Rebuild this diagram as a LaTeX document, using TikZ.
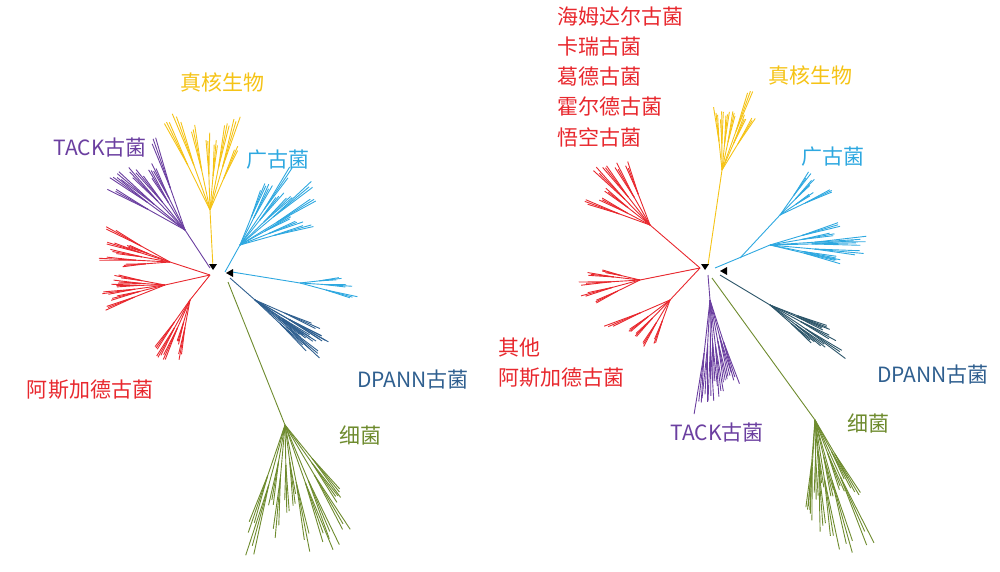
\documentclass[tikz,border=0pt]{standalone}
\usepackage{fontspec}
\newfontfamily\cjk{Noto Sans CJK SC}
\setmainfont{Noto Sans CJK SC}
\definecolor{cR}{HTML}{E8282E}
\definecolor{cY}{HTML}{F5C316}
\definecolor{cP}{HTML}{6B3FA0}
\definecolor{cB}{HTML}{2EA8E0}
\definecolor{cD}{HTML}{2F5F8F}
\definecolor{cT}{HTML}{2B5468}
\definecolor{cG}{HTML}{6E8B2E}
\newcommand\myclade[8]{%
 \foreach \i in {1,...,#8}{%
  \pgfmathsetmacro\a{#4+(#5-#4)*(\i-1)/(#8-1)+rnd*4-2}%
  \pgfmathsetmacro\L{#6+rnd*(#7-#6)}%
  \draw[#1] (#2,571-#3) -- ++(\a:0.45*\L) coordinate (m);
  \foreach \d in {-3,0,3}{%
   \pgfmathsetmacro\LL{0.55*\L*(0.7+0.3*rnd)}%
   \draw[#1] (m) -- ++(\a+\d:\LL);}
 }}
\newcommand\trunk[5]{\draw[#1] (#2,571-#3) -- (#4,571-#5);}
\tikzset{lab/.style={font=\fontsize{21}{24}\selectfont, inner sep=0pt},
 tri/.style={fill=black}}
\begin{document}
\begin{tikzpicture}[x=1pt,y=1pt,line width=0.9pt]
\pgfmathsetseed{7}
\useasboundingbox (0,0) rectangle (1000,571);
% LEFT TREE
\trunk{cY}{213}{268}{210}{210}\myclade{cY}{210}{210}{65}{115}{70}{115}{8}
\trunk{cP}{210}{268}{185}{230}\myclade{cP}{185}{230}{110}{150}{60}{105}{8}
\trunk{cR}{210}{275}{170}{262}\myclade{cR}{170}{262}{150}{185}{50}{80}{6}
\trunk{cR}{210}{275}{165}{285}\myclade{cR}{165}{285}{170}{200}{50}{85}{6}
\trunk{cR}{210}{275}{190}{300}\myclade{cR}{190}{300}{235}{260}{50}{85}{5}
\trunk{cB}{225}{272}{240}{245}\myclade{cB}{240}{245}{15}{70}{60}{110}{10}
\trunk{cB}{232}{272}{300}{283}\myclade{cB}{300}{283}{-15}{5}{40}{60}{3}
\trunk{cD}{230}{278}{255}{300}\myclade{cD}{255}{300}{-25}{-45}{60}{100}{8}
\trunk{cG}{228}{282}{285}{425}\myclade{cG}{285}{425}{-50}{-110}{70}{140}{12}
\fill[tri] (209,571-264) -- (217,571-264) -- (213,571-270) -- cycle;
\fill[tri] (226,571-273) -- (233,571-269) -- (233,571-277) -- cycle;
% RIGHT TREE
\trunk{cR}{700}{268}{650}{225}\myclade{cR}{650}{225}{110}{160}{50}{90}{7}
\trunk{cR}{700}{268}{640}{280}\myclade{cR}{640}{280}{165}{205}{40}{65}{5}
\trunk{cR}{700}{268}{670}{300}\myclade{cR}{670}{300}{205}{250}{45}{75}{5}
\trunk{cY}{708}{265}{722}{170}\myclade{cY}{722}{170}{60}{95}{55}{105}{7}
\trunk{cB}{715}{268}{770}{245}\myclade{cB}{770}{245}{-15}{15}{60}{105}{7}
\trunk{cB}{740}{258}{780}{215}\myclade{cB}{780}{215}{25}{55}{40}{70}{4}
\trunk{cT}{720}{275}{770}{305}\myclade{cT}{770}{305}{-20}{-40}{60}{100}{6}
\trunk{cP}{708}{275}{710}{300}\myclade{cP}{710}{300}{-72}{-95}{70}{130}{8}
\trunk{cG}{712}{278}{815}{420}\myclade{cG}{815}{420}{-60}{-95}{70}{140}{12}
\fill[tri] (701,571-264) -- (709,571-264) -- (705,571-270) -- cycle;
\fill[tri] (720,571-271) -- (727,571-267) -- (727,571-275) -- cycle;
% LABELS
\node[lab,text=cY] (l1) at (222,571-82) {真核生物};
\node[lab,text=cP] (l2) at (100,571-148) {TACK古菌};
\node[lab,text=cB] (l3) at (278,571-160) {广古菌};
\node[lab,text=cR] (l4) at (90,571-390) {阿斯加德古菌};
\node[lab,text=cD] (l5) at (413,571-380) {DPANN古菌};
\node[lab,text=cG] (l6) at (360,571-435) {细菌};
\node[lab,text=cR,anchor=west] (r1) at (557,571-17) {海姆达尔古菌};
\node[lab,text=cR,anchor=west] (r2) at (557,571-47) {卡瑞古菌};
\node[lab,text=cR,anchor=west] (r3) at (557,571-77) {葛德古菌};
\node[lab,text=cR,anchor=west] (r4) at (557,571-107) {霍尔德古菌};
\node[lab,text=cR,anchor=west] (r5) at (557,571-137) {悟空古菌};
\node[lab,text=cY] (r6) at (810,571-75) {真核生物};
\node[lab,text=cB] (r7) at (833,571-157) {广古菌};
\node[lab,text=cR,anchor=west] (r8) at (498,571-348) {其他};
\node[lab,text=cR,anchor=west] (r9) at (498,571-378) {阿斯加德古菌};
\node[lab,text=cD] (r10) at (933,571-375) {DPANN古菌};
\node[lab,text=cP] (r11) at (717,571-433) {TACK古菌};
\node[lab,text=cG] (r12) at (868,571-423) {细菌};
\end{tikzpicture}
\end{document}
